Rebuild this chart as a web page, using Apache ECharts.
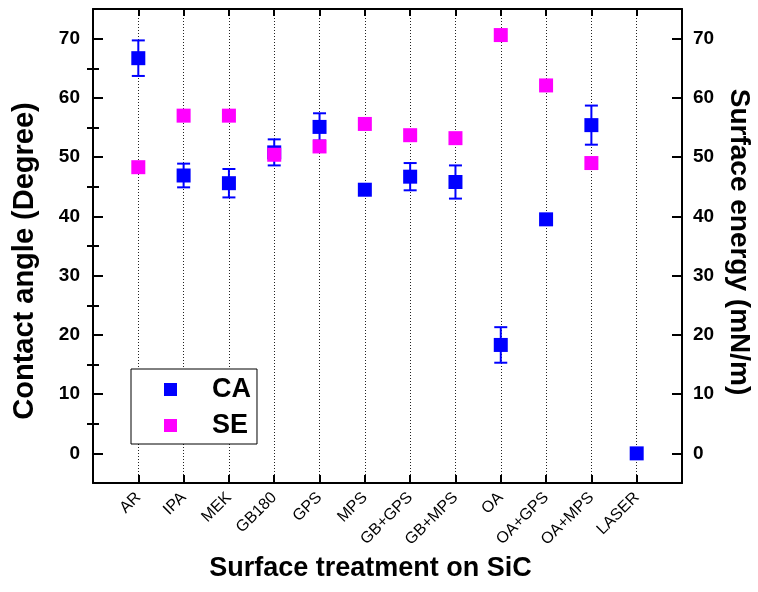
<!DOCTYPE html>
<html>
<head>
<meta charset="utf-8">
<script src="https://cdn.jsdelivr.net/npm/echarts@6/dist/echarts.min.js"></script>
<style>
  html, body { margin: 0; padding: 0; background: #fff; }
  #chart { width: 758px; height: 592px; }
</style>
</head>
<body>
<div id="chart"></div>
<script>
// surface treatments on SiC, plotted at x = 1..12
const treatments = ['AR', 'IPA', 'MEK', 'GB180', 'GPS', 'MPS', 'GB+GPS', 'GB+MPS', 'OA', 'OA+GPS', 'OA+MPS', 'LASER'];
// contact angle (degree) and its error
const contactAngle = [66.7, 46.9, 45.6, 50.8, 55.1, 44.5, 46.7, 45.8, 18.3, 39.5, 55.4, 0];
const contactAngleErr = [3.0, 2.0, 2.4, 2.2, 2.3, 0, 2.3, 2.8, 3.0, 0, 3.3, 0];
// surface energy (mN/m), none for LASER
const surfaceEnergy = [48.3, 57.0, 57.0, 50.4, 51.8, 55.6, 53.7, 53.2, 70.6, 62.1, 49.0, null];
// y axis ticks
const majorTicks = [0, 10, 20, 30, 40, 50, 60, 70];
const minorTicks = [5, 15, 25, 35, 45, 55, 65];

const FONT = '"Liberation Sans", Arial, sans-serif';
const BLUE = '#0000ff';
const MAGENTA = '#ff00ff';

const caPoints = contactAngle.map((v, i) => [i + 1, v]);
const sePoints = surfaceEnergy
  .map((v, i) => [i + 1, v])
  .filter(p => p[1] !== null);
const errPoints = contactAngle
  .map((v, i) => [i + 1, v - contactAngleErr[i], v + contactAngleErr[i]])
  .filter((p, i) => contactAngleErr[i] > 0);

function yAxisMain(position, name, nameGap, nameRotate, nameSize, namePadding) {
  return {
    type: 'value',
    position,
    min: -5,
    max: 75,
    interval: 5,
    name,
    nameLocation: 'middle',
    nameGap,
    nameRotate,
    nameTextStyle: { fontFamily: FONT, fontSize: nameSize, fontWeight: 'bold', color: '#000', padding: namePadding },
    axisLine: { show: true, onZero: false, lineStyle: { color: '#000', width: 2 } },
    axisTick: { show: true, inside: true, length: 10, customValues: majorTicks, lineStyle: { color: '#000', width: 2 } },
    axisLabel: {
      customValues: majorTicks,
      margin: position === 'left' ? 13 : 11,
      fontFamily: FONT,
      fontSize: 19,
      fontWeight: 'bold',
      color: '#000'
    },
    splitLine: { show: false }
  };
}

function yAxisMinor(position) {
  return {
    type: 'value',
    position,
    min: -5,
    max: 75,
    interval: 5,
    axisLine: { show: false },
    axisTick: { show: true, inside: true, length: 6, customValues: minorTicks, lineStyle: { color: '#000', width: 2 } },
    axisLabel: { show: false },
    splitLine: { show: false }
  };
}

const chart = echarts.init(document.getElementById('chart'));

chart.setOption({
  backgroundColor: '#fff',
  animation: false,
  grid: { left: 93, right: 76, top: 9, bottom: 109, containLabel: false, outerBoundsMode: 'none' },
  legend: {
    orient: 'vertical',
    left: 131,
    top: 369,
    data: ['CA', 'SE'],
    icon: 'rect',
    itemWidth: 13,
    itemHeight: 13,
    itemGap: 9,
    padding: [7, 6, 5, 33],
    backgroundColor: '#fff',
    borderColor: '#000',
    borderWidth: 1,
    borderRadius: 0,
    textStyle: { fontFamily: FONT, fontSize: 27, fontWeight: 'bold', color: '#000', padding: [0, 0, 0, 30] }
  },
  xAxis: [
    {
      type: 'value',
      position: 'bottom',
      min: 0,
      max: 13,
      interval: 1,
      name: 'Surface treatment on SiC',
      nameLocation: 'middle',
      nameGap: 67,
      nameTextStyle: { fontFamily: FONT, fontSize: 27, fontWeight: 'bold', color: '#000', padding: [0, 34, 0, 0] },
      axisLine: { show: true, onZero: false, lineStyle: { color: '#000', width: 2 } },
      axisTick: { show: true, inside: true, length: 8, lineStyle: { color: '#000', width: 2 } },
      axisLabel: {
        rotate: 45,
        margin: 12,
        fontFamily: FONT,
        fontSize: 16,
        color: '#000',
        padding: [26, 0, 0, 0],
        formatter: v => treatments[v - 1] || ''
      },
      splitLine: { show: true, lineStyle: { color: '#222', width: 1, type: [1, 2] } }
    },
    {
      type: 'value',
      position: 'top',
      min: 0,
      max: 13,
      interval: 1,
      axisLine: { show: true, onZero: false, lineStyle: { color: '#000', width: 2 } },
      axisTick: { show: true, inside: true, length: 7, lineStyle: { color: '#000', width: 2 } },
      axisLabel: { show: false },
      splitLine: { show: false }
    }
  ],
  yAxis: [
    yAxisMain('left', 'Contact angle (Degree)', 54, 90, 29, [0, 30, 0, 0]),
    yAxisMinor('left'),
    yAxisMain('right', 'Surface energy (mN/m)', 43, -90, 28, [0, 8, 0, 0]),
    yAxisMinor('right')
  ],
  series: [
    {
      name: 'CA error',
      type: 'custom',
      xAxisIndex: 0,
      yAxisIndex: 0,
      data: errPoints,
      z: 2,
      renderItem: (params, api) => {
        const x = api.value(0);
        const lo = api.coord([x, api.value(1)]);
        const hi = api.coord([x, api.value(2)]);
        const w = 6.5;
        const style = { stroke: BLUE, lineWidth: 2 };
        return {
          type: 'group',
          children: [
            { type: 'line', shape: { x1: hi[0], y1: hi[1], x2: lo[0], y2: lo[1] }, style },
            { type: 'line', shape: { x1: hi[0] - w, y1: hi[1], x2: hi[0] + w, y2: hi[1] }, style },
            { type: 'line', shape: { x1: lo[0] - w, y1: lo[1], x2: lo[0] + w, y2: lo[1] }, style }
          ]
        };
      }
    },
    {
      name: 'CA',
      type: 'scatter',
      xAxisIndex: 0,
      yAxisIndex: 0,
      symbol: 'rect',
      symbolSize: 14,
      itemStyle: { color: BLUE, opacity: 1 },
      data: caPoints,
      z: 3
    },
    {
      name: 'SE',
      type: 'scatter',
      xAxisIndex: 0,
      yAxisIndex: 2,
      symbol: 'rect',
      symbolSize: 14,
      itemStyle: { color: MAGENTA, opacity: 1 },
      data: sePoints,
      z: 4
    }
  ]
});
</script>
</body>
</html>
